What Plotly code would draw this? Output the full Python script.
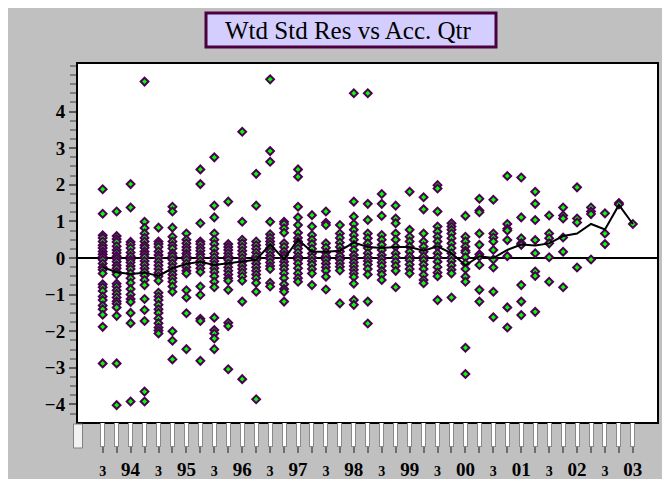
import plotly.graph_objects as go

# ---------------- data ----------------
quarters = ["93Q3", "93Q4", "94Q1", "94Q2", "94Q3", "94Q4", "95Q1", "95Q2", "95Q3", "95Q4",
            "96Q1", "96Q2", "96Q3", "96Q4", "97Q1", "97Q2", "97Q3", "97Q4", "98Q1", "98Q2",
            "98Q3", "98Q4", "99Q1", "99Q2", "99Q3", "99Q4", "00Q1", "00Q2", "00Q3", "00Q4",
            "01Q1", "01Q2", "01Q3", "01Q4", "02Q1", "02Q2", "02Q3", "02Q4", "03Q1"]

quarter_tick_labels = ["3", "", "94", "", "3", "", "95", "", "3", "",
                       "96", "", "3", "", "97", "", "3", "", "98", "",
                       "3", "", "99", "", "3", "", "00", "", "3", "",
                       "01", "", "3", "", "02", "", "3", "", "03"]

r_93q3 = [1.88, 1.21, 0.62, 0.55, 0.45, 0.35, 0.27, 0.18, 0.1, 0.03, -0.05, -0.15, -0.25, -0.32, -0.42,
          -0.72, -0.8, -0.9, -1.05, -1.15, -1.3, -1.4, -1.55, -1.88, -2.88]
r_93q4 = [1.27, 0.6, 0.52, 0.44, 0.32, 0.22, 0.14, 0.05, -0.02, -0.1, -0.2, -0.28, -0.38, -0.45,
          -0.7, -0.78, -0.88, -0.98, -1.08, -1.18, -1.25, -1.35, -1.58, -2.88, -4.02]
r_94q1 = [2.02, 1.38, 0.44, 0.37, 0.27, 0.15, 0.05, -0.05, -0.12, -0.22, -0.3, -0.42, -0.55, -0.68,
          -0.85, -1.0, -1.12, -1.2, -1.5, -1.78, -3.92]
r_94q2 = [4.82, 0.99, 0.82, 0.67, 0.55, 0.45, 0.35, 0.28, 0.18, 0.1, 0.02, -0.08, -0.18, -0.28, -0.38,
          -0.48, -0.6, -0.74, -1.12, -1.42, -1.72, -3.65, -3.92]
r_94q3 = [0.83, 0.45, 0.38, 0.3, 0.18, 0.08, 0.0, -0.1, -0.2, -0.3, -0.4, -0.5, -0.62, -0.95, -1.05,
          -1.15, -1.28, -1.4, -1.5, -1.65, -1.78, -1.9, -1.98, -2.06]
r_94q4 = [1.4, 1.27, 0.83, 0.58, 0.45, 0.35, 0.26, 0.13, 0.05, -0.05, -0.15, -0.25, -0.35, -0.45,
          -0.55, -0.65, -0.78, -0.92, -2.0, -2.26, -2.77]
r_95q1 = [0.67, 0.5, 0.4, 0.3, 0.22, 0.12, 0.04, -0.05, -0.15, -0.25, -0.35, -0.42, -0.88, -1.08,
          -1.51, -2.49]
r_95q2 = [2.42, 2.02, 0.95, 0.45, 0.38, 0.28, 0.2, 0.1, 0.02, -0.08, -0.18, -0.28, -0.38, -0.78,
          -1.01, -1.66, -1.72, -2.81]
r_95q3 = [2.75, 1.43, 1.11, 0.67, 0.5, 0.38, 0.25, 0.12, 0.02, -0.08, -0.18, -0.28, -0.38, -0.5,
          -0.65, -0.8, -1.63, -1.97, -2.06, -2.2, -2.49]
r_95q4 = [1.54, 0.38, 0.3, 0.22, 0.13, 0.04, -0.05, -0.15, -0.25, -0.35, -0.45, -0.55, -0.62, -0.87,
          -1.77, -1.86, -3.04]
r_96q1 = [3.45, 0.99, 0.5, 0.4, 0.3, 0.2, 0.1, 0.0, -0.1, -0.2, -0.3, -0.4, -0.5, -0.62, -1.19, -3.31]
r_96q2 = [2.3, 1.43, 0.45, 0.35, 0.25, 0.15, 0.05, -0.05, -0.15, -0.25, -0.35, -0.45, -0.55, -0.68,
          -0.92, -3.86]
r_96q3 = [4.88, 2.92, 2.63, 0.99, 0.65, 0.55, 0.45, 0.37, 0.27, 0.17, 0.07, -0.02, -0.12, -0.22,
          -0.3, -0.68, -0.78]
r_96q4 = [0.99, 0.93, 0.81, 0.69, 0.4, 0.3, 0.18, 0.08, 0.0, -0.1, -0.2, -0.3, -0.42, -0.55, -0.72,
          -0.85, -0.92, -1.19]
r_97q1 = [2.42, 2.22, 1.4, 1.11, 0.9, 0.69, 0.55, 0.45, 0.35, 0.26, 0.15, 0.04, -0.05, -0.15, -0.28,
          -0.42, -0.55, -0.65]
r_97q2 = [1.17, 0.86, 0.63, 0.5, 0.38, 0.25, 0.12, 0.02, -0.08, -0.18, -0.3, -0.42, -0.74]
r_97q3 = [1.27, 0.96, 0.9, 0.4, 0.28, 0.15, 0.05, -0.05, -0.15, -0.25, -0.35, -0.51, -0.86]
r_97q4 = [0.9, 0.67, 0.55, 0.42, 0.3, 0.18, 0.06, -0.04, -0.14, -0.24, -0.34, -1.24]
r_98q1 = [4.5, 1.54, 1.13, 0.93, 0.77, 0.63, 0.5, 0.36, 0.22, 0.08, -0.02, -0.12, -0.22, -0.32,
          -0.42, -0.52, -0.7, -1.15, -1.28]
r_98q2 = [4.5, 1.48, 1.04, 0.67, 0.54, 0.4, 0.27, 0.13, 0.02, -0.08, -0.18, -0.3, -0.45, -1.19, -1.79]
r_98q3 = [1.75, 1.48, 1.15, 0.63, 0.5, 0.36, 0.22, 0.08, -0.02, -0.12, -0.22, -0.35, -0.45, -0.6]
r_98q4 = [1.43, 1.08, 0.95, 0.67, 0.5, 0.31, 0.13, 0.02, -0.1, -0.22, -0.35, -0.8]
r_99q1 = [1.81, 0.77, 0.58, 0.45, 0.31, 0.17, 0.04, -0.06, -0.18, -0.3, -0.42]
r_99q2 = [1.66, 1.33, 0.67, 0.45, 0.31, 0.17, 0.04, -0.06, -0.18, -0.3, -0.46, -0.6, -0.69]
r_99q3 = [1.99, 1.9, 1.27, 0.86, 0.72, 0.58, 0.45, 0.31, 0.13, 0.02, -0.1, -0.25, -0.4, -0.5, -1.15]
r_99q4 = [0.95, 0.86, 0.77, 0.67, 0.54, 0.4, 0.27, 0.13, 0.02, -0.08, -0.2, -0.32, -0.42, -1.08]
r_00q1 = [1.15, 0.58, 0.45, 0.31, 0.2, 0.15, 0.02, -0.15, -0.3, -0.51, -0.65, -2.45, -3.17]
r_00q2 = [1.62, 1.3, 1.25, 0.67, 0.36, 0.1, 0.04, -0.19, -0.87, -1.19]
r_00q3 = [1.59, 0.67, 0.56, 0.45, 0.22, -0.04, -0.26, -0.92, -1.62]
r_00q4 = [2.24, 0.93, 0.8, 0.75, 0.49, 0.05, -1.35, -1.9]
r_01q1 = [2.2, 1.11, 0.54, 0.4, 0.36, -0.74, -1.19, -1.56]
r_01q2 = [1.81, 1.48, 1.04, 0.49, 0.13, -0.37, -0.49, -1.47]
r_01q3 = [1.16, 0.67, 0.54, 0.4, 0.02, -0.65]
r_01q4 = [1.38, 1.16, 1.08, 0.56, 0.17, -0.8]
r_02q1 = [1.93, 1.08, 0.97, -0.26]
r_02q2 = [1.38, 1.27, 1.2, -0.04]
r_02q3 = [1.22, 0.67, 0.38]
r_02q4 = [1.5, 1.46]
r_03q1 = [0.93]

mean_by_quarter = [-0.25, -0.39, -0.44, -0.40, -0.49, -0.28, -0.16, -0.10, -0.19, -0.15,
                   -0.10, -0.05, 0.37, -0.03, 0.50, 0.17, 0.17, 0.20, 0.42, 0.30,
                   0.27, 0.30, 0.30, 0.20, 0.32, 0.13, -0.20, 0.05, 0.00, 0.22,
                   0.37, 0.34, 0.40, 0.60, 0.67, 0.93, 0.78, 1.45, 0.93]

residual_columns = [r_93q3, r_93q4, r_94q1, r_94q2, r_94q3, r_94q4, r_95q1, r_95q2, r_95q3, r_95q4,
                    r_96q1, r_96q2, r_96q3, r_96q4, r_97q1, r_97q2, r_97q3, r_97q4, r_98q1, r_98q2,
                    r_98q3, r_98q4, r_99q1, r_99q2, r_99q3, r_99q4, r_00q1, r_00q2, r_00q3, r_00q4,
                    r_01q1, r_01q2, r_01q3, r_01q4, r_02q1, r_02q2, r_02q3, r_02q4, r_03q1]

title_text = "Wtd Std Res vs Acc. Qtr"

# ---------------- layout geometry ----------------
# page body has an 8px margin, figure fills the rest of the 670x479 window
OFF = 8
FIG_W, FIG_H = 670 - OFF, 479 - OFF
L, R, T, B = 70, 13, 56, 57
PW = FIG_W - L - R
PH = FIG_H - T - B


def sx(px):
    """screen x pixel -> paper coordinate"""
    return (px - OFF - L) / PW


def sy(py):
    """screen y pixel -> paper coordinate"""
    return (T + PH - (py - OFF)) / PH


xs, ys = [], []
for q, col in zip(quarters, residual_columns):
    xs.extend([q] * len(col))
    ys.extend(col)

serif = "Liberation Serif"
x_range = [-1.77, 39.73]

fig = go.Figure()
fig.add_trace(go.Scatter(
    x=xs, y=ys, mode="markers",
    marker=dict(symbol="diamond", size=6, color="#00FF00",
                line=dict(color="#4B0050", width=2)),
    showlegend=False, hoverinfo="skip"))
fig.add_trace(go.Scatter(
    x=quarters, y=mean_by_quarter, mode="lines",
    line=dict(color="black", width=2), showlegend=False, hoverinfo="skip"))
# empty traces to host decorative tick axes
fig.add_trace(go.Scatter(x=[], y=[], xaxis="x2", yaxis="y", showlegend=False))
fig.add_trace(go.Scatter(x=[], y=[], xaxis="x3", yaxis="y", showlegend=False))

idx = list(range(len(quarters)))
ticktext = [('<b><span style="font-size:14px">%s</span></b>' % t) if t == "3" else t
            for t in quarter_tick_labels]

fig.update_layout(
    width=FIG_W, height=FIG_H,
    margin=dict(l=L, r=R, t=T, b=B, pad=0, autoexpand=False),
    paper_bgcolor="#C0C0C0", plot_bgcolor="white",
    xaxis=dict(type="category", categoryorder="array", categoryarray=quarters,
               range=x_range, tickmode="array", tickvals=quarters, ticktext=ticktext,
               ticks="outside", ticklen=29, tickwidth=1.5, tickcolor="#6e6e6e",
               ticklabelstandoff=0, automargin=False,
               tickfont=dict(family=serif, size=19, color="black", weight="bold"),
               showline=True, linecolor="black", linewidth=2, mirror=True,
               showgrid=False, zeroline=False, tickangle=0),
    xaxis2=dict(overlaying="x", anchor="y", side="bottom", range=x_range, automargin=False,
                tickmode="array", tickvals=idx, ticks="outside", ticklen=24,
                tickwidth=5, tickcolor="#8a8a8a", showticklabels=False,
                showgrid=False, zeroline=False, showline=False),
    xaxis3=dict(overlaying="x", anchor="y", side="bottom", range=x_range, automargin=False,
                tickmode="array", tickvals=idx, ticks="outside", ticklen=23,
                tickwidth=2.5, tickcolor="#ffffff", showticklabels=False,
                showgrid=False, zeroline=False, showline=False),
    yaxis=dict(range=[-4.48, 5.30], tickmode="array", tickvals=[-4, -3, -2, -1, 0, 1, 2, 3, 4],
               ticks="outside", ticklen=7, tickwidth=1.5, tickcolor="#5a5a5a", automargin=False,
               minor=dict(dtick=0.25, ticks="outside", ticklen=6, tickwidth=1.5, tickcolor="#808080"),
               tickfont=dict(family=serif, size=19, color="black", weight="bold"),
               showline=True, linecolor="black", linewidth=2, mirror=True,
               showgrid=False, zeroline=True, zerolinecolor="black", zerolinewidth=2),
    shapes=[
        # axis-start bar
        dict(type="rect", xref="paper", yref="paper", x0=sx(73.5), x1=sx(82.5), y0=sy(448), y1=sy(424),
             fillcolor="#f2f2f2", line=dict(color="#808080", width=1)),
        # title box
        dict(type="rect", xref="paper", yref="paper", x0=sx(206), x1=sx(496), y0=sy(47), y1=sy(13),
             fillcolor="#D4CEFF", line=dict(color="#4B0040", width=3)),
    ],
    annotations=[
        dict(text=title_text, xref="paper", yref="paper", x=sx(348), y=sy(30),
             xanchor="center", yanchor="middle", showarrow=False,
             font=dict(family=serif, size=25, color="black")),
    ],
)

fig.write_html("out.html")
